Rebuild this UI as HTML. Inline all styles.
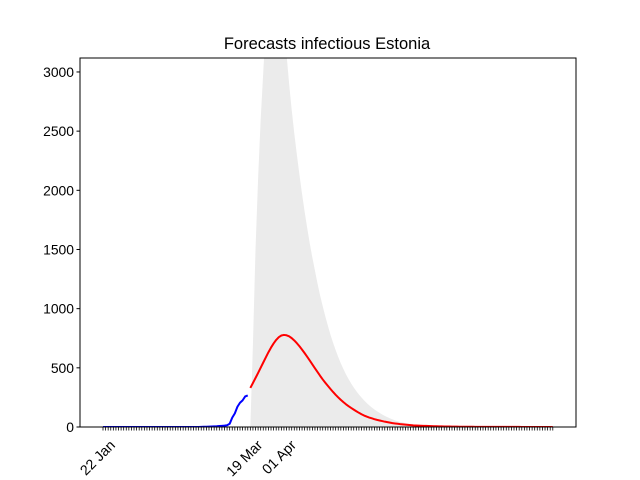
<!DOCTYPE html>
<html><head><meta charset="utf-8"><style>
body{margin:0;background:#fff}
svg{display:block;font-family:"Liberation Sans","DejaVu Sans",sans-serif}
</style></head><body>
<svg id="chart" width="640" height="480" viewBox="0 0 640 480">
<rect width="640" height="480" fill="#fff"/>
<text x="327" y="49" font-size="16.5" text-anchor="middle">Forecasts infectious Estonia</text>
<defs><clipPath id="pc"><rect x="80" y="58" width="496" height="369"/></clipPath></defs>
<g id="plot" clip-path="url(#pc)"></g>
<g id="axes"></g>
</svg>
<script>
const tickLabels = ["22 Jan","19 Mar","01 Apr"];
const tickLabelDays = [0,57,70];
const yTicks = [0,500,1000,1500,2000,2500,3000];
const observedStart = 0;
const observed = [0,0,0,0,0,0,0,0,0,0,0,0,0,0,0,0,0,0,0,0,0,0,0,0,0,0,0,0,0,0,0,0,0,0,0,0,0,0,1,2,2,3,4,5,6,8,10,12,15,27,79,115,171,205,225,258,267];
const forecastStart = 57;
const forecast = [330,372,414,457,501,545,589,632,671,706,736,759,773,778,775,766,751,731,708,682,654,624,593,561,529,496,464,432,402,374,347,321,296,272,250,229,210,192,176,161,147,133,120,108,97,88,80,73,66,60,55,50,45,41,37,33,30,27,24,22,20,18,16,14,13,12,11,10,9,8,7,6,6,5,5,4,4,4,3,3,3,2,2,2,2,2,2,1,1,1,1,1,1,1,1,1,1,1,1,1,1,1,1,1,1,0,0,0,0,0,0,0,0,0,0,0,0,0];
const bandUpper = [0,700,1500,2100,2600,3000,3400,3900,4300,4600,4700,4500,4100,3600,3150,2900,2680,2480,2300,2130,1970,1820,1680,1550,1430,1320,1210,1110,1020,935,855,780,712,650,592,538,490,445,405,368,334,303,275,249,225,203,183,165,148,133,119,106,94,83,73,64,56,49,43,38,33,29,25,22,19,16,14,12,10,9,8,7,6,5,4,3,3,2,2,2,1,1,1,1,1,1,1,1,1,1,0,0,0,0,0,0,0,0,0,0,0,0,0,0,0,0,0,0,0,0,0,0,0,0,0,0,0,0];
const nDays = 175;

const X0=80,X1=576,Y0=427,Y1=58;
const xs = d => 103 + d*2.585;
const ys = v => Y0 - v*(Y0-Y1)/3118;
const NS="http://www.w3.org/2000/svg";
function mk(tag, attrs, parent){const e=document.createElementNS(NS,tag);for(const k in attrs)e.setAttribute(k,attrs[k]);parent.appendChild(e);return e;}
const plot=document.getElementById('plot'), axes=document.getElementById('axes');

let pts=[];
bandUpper.forEach((v,i)=>pts.push(xs(forecastStart+i).toFixed(2)+","+ys(v).toFixed(2)));
for(let i=bandUpper.length-1;i>=0;i--) pts.push(xs(forecastStart+i).toFixed(2)+","+ys(0).toFixed(2));
const band=mk('polygon',{points:pts.join(' '),fill:'#ebebeb'},plot);



const ob=mk('polyline',{points:observed.map((v,i)=>xs(observedStart+i).toFixed(2)+","+ys(v).toFixed(2)).join(' '),fill:'none',stroke:'#0000ff','stroke-width':2,'stroke-linejoin':'round'},plot);



const fc=mk('polyline',{points:forecast.map((v,i)=>xs(forecastStart+i).toFixed(2)+","+ys(v).toFixed(2)).join(' '),fill:'none',stroke:'#ff0000','stroke-width':2,'stroke-linejoin':'round'},plot);



const frame=mk('rect',{x:X0,y:Y1,width:X1-X0,height:Y0-Y1,fill:'none',stroke:'#000','stroke-width':1},axes);



yTicks.forEach(v=>{
  const y=ys(v);
  const t=mk('line',{x1:X0-3.5,x2:X0,y1:y,y2:y,stroke:'#000','stroke-width':1},axes);
  
  
  const l=mk('text',{x:X0-6,y:y+5,'font-size':13.9,'text-anchor':'end'},axes);
  l.textContent=v;
  
  
});
for(let d=0; d<nDays; d++){
  const x=xs(d);
  const t=mk('line',{x1:x,x2:x,y1:Y0,y2:Y0+3.5,stroke:'#000','stroke-width':0.8},axes);
  
  
}
tickLabels.forEach((s,i)=>{
  const x=xs(tickLabelDays[i])+13, y=Y0+19;
  const l=mk('text',{x:x,y:y,'font-size':14.2,'text-anchor':'end',transform:`rotate(-45 ${x} ${y})`},axes);
  l.textContent=s;
  
  
});
</script>
</body></html>
